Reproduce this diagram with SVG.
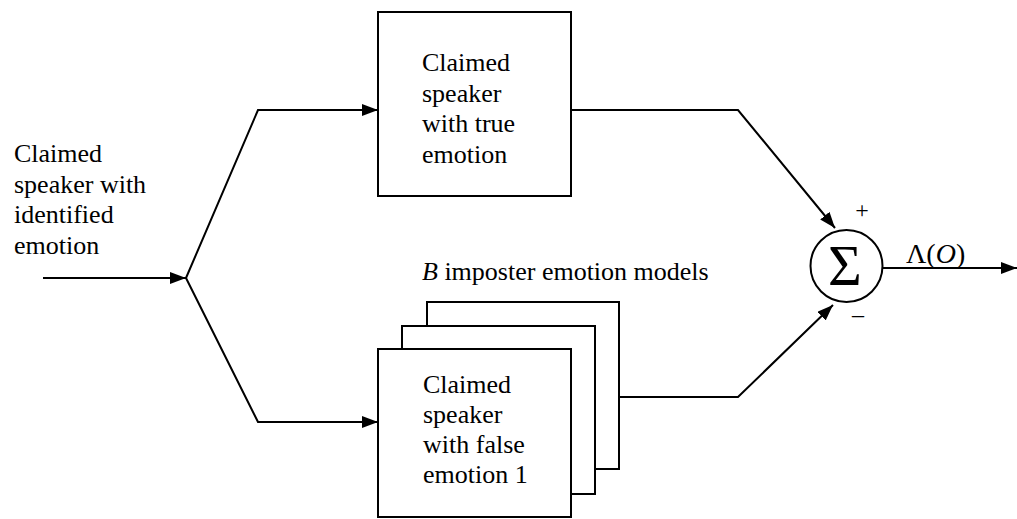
<svg xmlns="http://www.w3.org/2000/svg" width="1017" height="519" viewBox="0 0 1017 519">
<style>
.t{font-family:'Liberation Serif','Times New Roman',Times,'DejaVu Serif',serif;fill:#000;font-size:26px}
.sig{font-size:58px}
.pm{font-size:24px}
.lam{font-size:28px}
.box{fill:#fff;stroke:#000;stroke-width:2}
.ln{fill:none;stroke:#000;stroke-width:2}
</style>
<defs>
<marker id="ah" viewBox="0 0 16 12" refX="16" refY="6" markerWidth="16" markerHeight="12" markerUnits="userSpaceOnUse" orient="auto">
<path d="M0,0 L16,6 L0,12 Z" fill="#000"/>
</marker>
</defs>
<rect width="1017" height="519" fill="#fff"/>
<g id="input-label" class="t">
<text x="14" y="162">Claimed</text>
<text x="14" y="193">speaker with</text>
<text x="14" y="223">identified</text>
<text x="14" y="254">emotion</text>
</g>
<g id="true-model">
<rect class="box" x="378" y="12" width="193" height="184"/>
<g class="t">
<text x="422" y="71">Claimed</text>
<text x="422" y="102">speaker</text>
<text x="422" y="132">with true</text>
<text x="422" y="163">emotion</text>
</g>
</g>
<g id="imposter-models">
<text class="t" x="422" y="280"><tspan font-style="italic">B</tspan> imposter emotion models</text>
<rect class="box" x="427" y="302" width="192" height="167"/>
<rect class="box" x="402" y="326" width="193" height="168"/>
<rect class="box" x="378" y="349" width="193" height="168"/>
<g class="t">
<text x="423" y="393">Claimed</text>
<text x="423" y="423">speaker</text>
<text x="423" y="453">with false</text>
<text x="423" y="483">emotion 1</text>
</g>
</g>
<g id="sum">
<circle cx="846.5" cy="266" r="36" fill="#fff" stroke="#000" stroke-width="2"/>
<text class="t sig" x="845" y="285" text-anchor="middle">Σ</text>
<text class="t pm" x="862" y="218" text-anchor="middle">+</text>
<text class="t pm" x="858" y="322" text-anchor="middle">–</text>
</g>
<g id="connectors">
<line class="ln" x1="43" y1="278" x2="186" y2="278" marker-end="url(#ah)"/>
<polyline class="ln" points="186,278 258,110 378,110" marker-end="url(#ah)"/>
<polyline class="ln" points="186,278 258,422 378,422" marker-end="url(#ah)"/>
<polyline class="ln" points="571,110 738,110 835,228" marker-end="url(#ah)"/>
<polyline class="ln" points="619,397 738,397 833,305" marker-end="url(#ah)"/>
<line class="ln" x1="883" y1="268" x2="1017" y2="268" marker-end="url(#ah)"/>
<text class="t lam" x="906" y="263">Λ(<tspan font-style="italic">O</tspan>)</text>
</g>
</svg>
